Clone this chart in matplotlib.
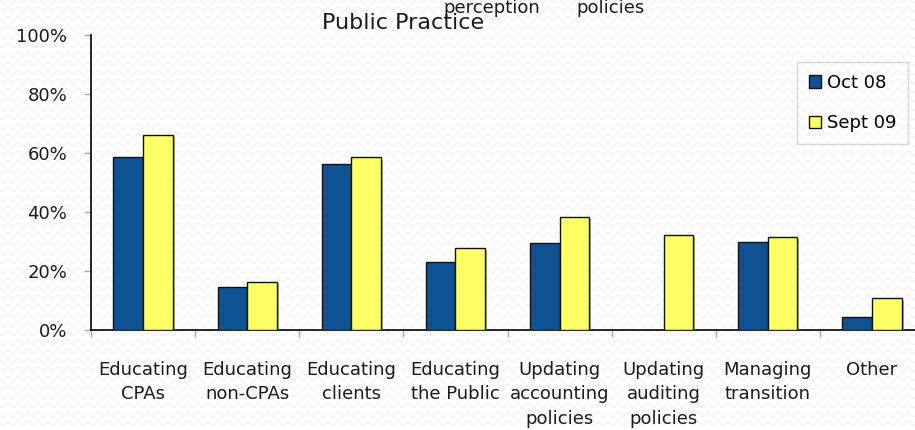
import numpy as np
import matplotlib
matplotlib.use("Agg")
import matplotlib.pyplot as plt
import matplotlib.patheffects as pe

categories = ["Educating\nCPAs", "Educating\nnon-CPAs", "Educating\nclients",
              "Educating\nthe Public", "Updating\naccounting\npolicies",
              "Updating\nauditing\npolicies", "Managing\ntransition", "Other"]
oct08 = [58.5, 14.7, 56.4, 23.2, 29.4, 0.0, 29.9, 4.3]
sept09 = [66.0, 16.3, 58.5, 27.7, 38.2, 32.2, 31.6, 10.7]
series_names = ["Oct 08", "Sept 09"]
yticks = [0, 20, 40, 60, 80, 100]
ytick_labels = ["0%", "20%", "40%", "60%", "80%", "100%"]

W, H, DPI = 915, 430, 100
fig = plt.figure(figsize=(W / DPI, H / DPI), dpi=DPI)
fig.patch.set_facecolor("white")

# faint wavy background pattern
yy, xx = np.mgrid[0:H, 0:W]
d = np.mod(yy - 2.2 * np.sin(2 * np.pi * xx / 10.0), 9.0)
dist = np.minimum(d, 9.0 - d)
val = 255 - 16 * np.clip(1.2 - dist, 0, 1)
bg = np.dstack([val, val, val]).astype(np.uint8)
fig.figimage(bg, 0, 0, zorder=-10)

left = 91 / W
right = 924 / W
bottom = 1 - 330 / H
top = 1 - 35 / H
ax = fig.add_axes([left, bottom, right - left, top - bottom])
ax.set_facecolor("none")

x = np.arange(len(categories))
bw = 0.284
shadow = [pe.SimplePatchShadow(offset=(1.5, -1.5), shadow_rgbFace="#888888", alpha=0.7), pe.Normal()]
b1 = ax.bar(x - bw / 2, oct08, width=bw, color="#0F5294", edgecolor="#111111",
            linewidth=1.0, label=series_names[0], zorder=3)
b2 = ax.bar(x + bw / 2, sept09, width=bw, color="#FFFF66", edgecolor="#111111",
            linewidth=1.0, label=series_names[1], zorder=3)
for b in list(b1) + list(b2):
    if b.get_height() > 0:
        b.set_path_effects(shadow)
    else:
        b.set_visible(False)

ax.set_xlim(-0.5, len(categories) - 0.5)
ax.set_ylim(0, 100)

ax.set_yticks(yticks)
ax.set_yticklabels(ytick_labels, fontsize=13, color="#1a1a1a")
ax.tick_params(axis="y", direction="out", length=5, width=1, color="#aaaaaa", pad=12)

ax.set_xticks(np.arange(len(categories) + 1) - 0.5)
ax.set_xticklabels([])
ax.tick_params(axis="x", which="major", direction="out", length=5, width=1, color="#aaaaaa")
ax.set_xticks(x, minor=True)
ax.set_xticklabels(categories, minor=True, fontsize=13, color="#1a1a1a", linespacing=1.48)
ax.tick_params(axis="x", which="minor", length=0, pad=22)

for s in ["top", "right"]:
    ax.spines[s].set_visible(False)
for s in ["left", "bottom"]:
    ax.spines[s].set_color("black")
    ax.spines[s].set_linewidth(1.2)

leg = fig.legend(handles=[b1, b2], labels=series_names, loc="upper right",
                 bbox_to_anchor=(908 / W, 1 - 62 / H), borderaxespad=0,
                 fontsize=13, frameon=True, fancybox=False, edgecolor="#cccccc",
                 facecolor="none", handlelength=0.7, handleheight=0.7,
                 handletextpad=0.3, labelspacing=1.25, borderpad=0.65)
leg.get_frame().set_linewidth(1.0)
for h in leg.legend_handles:
    h.set_path_effects([])

fig.text(403.5 / W, 1 - 29 / H, "Public Practice", ha="center", va="baseline",
         fontsize=16, color="#1a1a1a")
fig.text(492 / W, 1 - 13 / H, "perception", ha="center", va="baseline",
         fontsize=13, color="#1a1a1a")
fig.text(611 / W, 1 - 13 / H, "policies", ha="center", va="baseline",
         fontsize=13, color="#1a1a1a")

fig.savefig("out.png", dpi=DPI)
